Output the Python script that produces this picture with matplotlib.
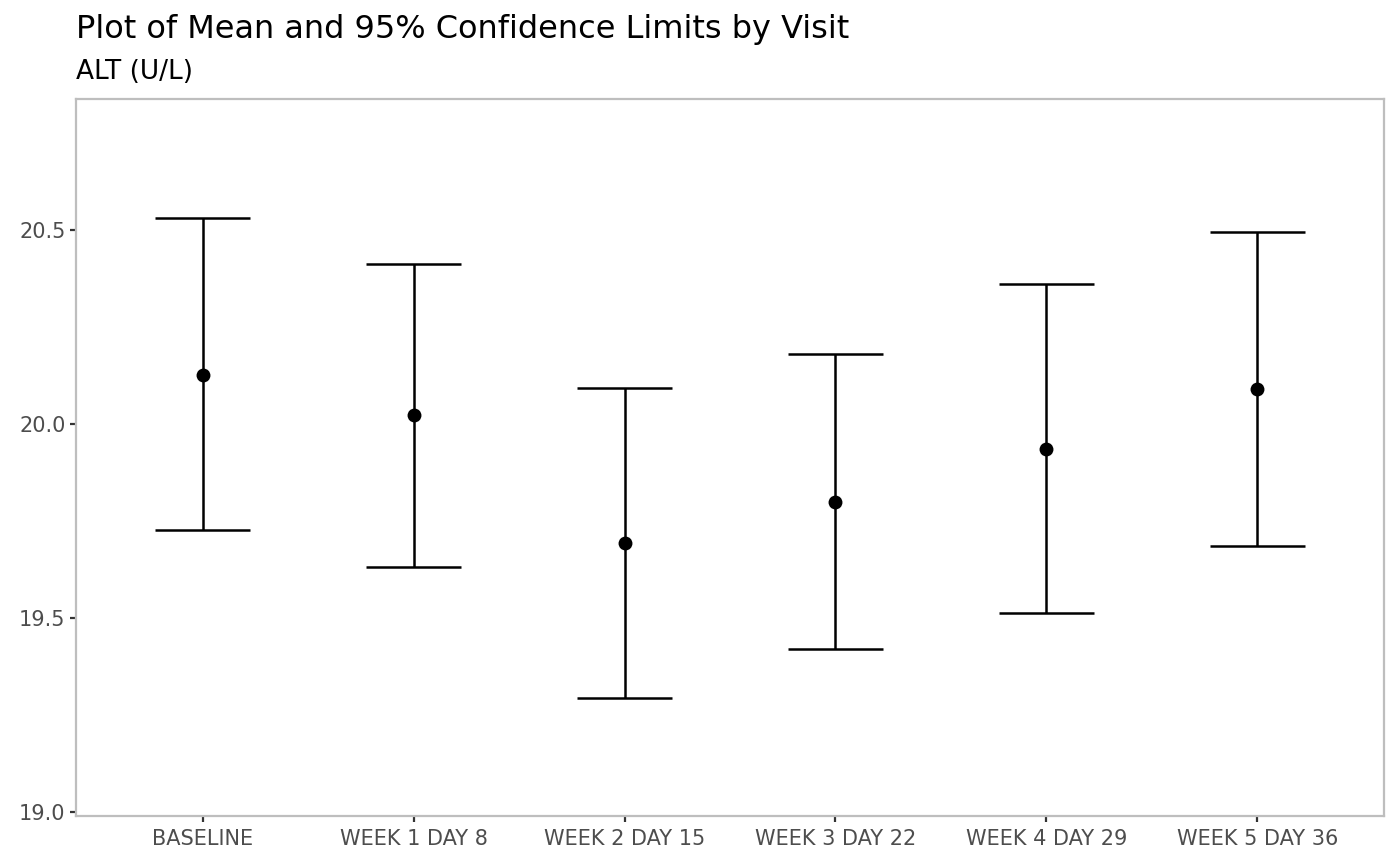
import matplotlib
matplotlib.use("Agg")
import matplotlib.pyplot as plt
import numpy as np

visits = ["BASELINE", "WEEK 1 DAY 8", "WEEK 2 DAY 15", "WEEK 3 DAY 22",
          "WEEK 4 DAY 29", "WEEK 5 DAY 36"]
mean_vals = [20.126, 20.023, 19.693, 19.799, 19.936, 20.090]
lower_ci = [19.727, 19.631, 19.294, 19.420, 19.513, 19.686]
upper_ci = [20.531, 20.412, 20.093, 20.180, 20.361, 20.495]
y_ticks = [19.0, 19.5, 20.0, 20.5]


def main() -> None:
    W, H = 1400, 866
    fig = plt.figure(figsize=(W / 100, H / 100), dpi=100)
    ax = fig.add_axes([76 / W, (H - 816) / H, 1308 / W, 717 / H])

    x = np.arange(1, len(visits) + 1)
    half = 0.225
    ax.vlines(x, lower_ci, upper_ci, color="black", lw=1.8, zorder=2)
    ax.hlines(lower_ci, x - half, x + half, color="black", lw=1.8, zorder=2)
    ax.hlines(upper_ci, x - half, x + half, color="black", lw=1.8, zorder=2)
    ax.plot(x, mean_vals, "o", color="black", ms=10, mew=0, zorder=3)

    ax.set_xlim(0.4, 6.6)
    ax.set_ylim(18.99, 20.838)
    ax.set_xticks(x)
    ax.set_xticklabels(visits)
    ax.set_yticks(y_ticks)
    ax.set_yticklabels([f"{v:.1f}" for v in y_ticks])
    ax.tick_params(axis="both", length=4.5, width=1.6, color="#333333",
                   labelcolor="#4D4D4D", labelsize=15, pad=3)
    ax.tick_params(axis="x", pad=5)

    for sp in ax.spines.values():
        sp.set_color("#BEBEBE")
        sp.set_linewidth(1.6)

    fig.text(76 / W, 1 - 38 / H, "Plot of Mean and 95% Confidence Limits by Visit",
             fontsize=23, color="black", ha="left", va="baseline")
    fig.text(76 / W, 1 - 79 / H, "ALT (U/L)", fontsize=19, color="black",
             ha="left", va="baseline")

    fig.savefig("out.png", dpi=100)


if __name__ == "__main__":
    main()
